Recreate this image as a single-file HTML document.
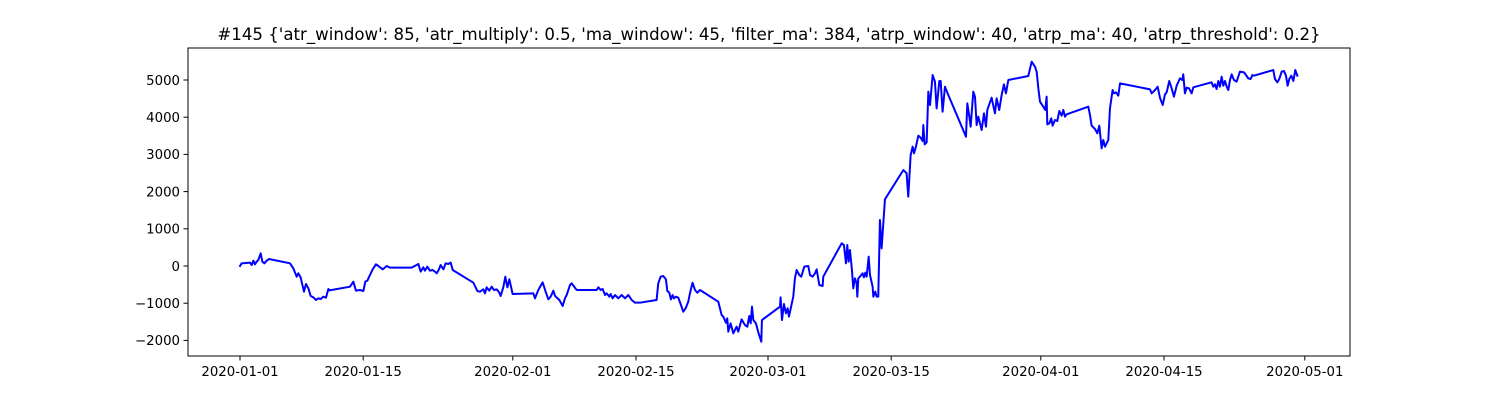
<!DOCTYPE html>
<html><head><meta charset="utf-8"><style>
html,body{margin:0;padding:0;background:#fff;}
svg{display:block;font-family:"DejaVu Sans","Liberation Sans",sans-serif;}
</style></head><body>
<svg id="chart" width="1500" height="400" viewBox="0 0 1500 400" xmlns="http://www.w3.org/2000/svg">
<rect x="0" y="0" width="1500" height="400" fill="#fff"/>
<text x="769" y="40" font-size="16.6" text-anchor="middle" fill="#000">#145 {'atr_window': 85, 'atr_multiply': 0.5, 'ma_window': 45, 'filter_ma': 384, 'atrp_window': 40, 'atrp_ma': 40, 'atrp_threshold': 0.2}</text>
<g id="axes"></g>
</svg>
<script>
const days = [0,.19,1.14,1.33,1.52,1.70,1.89,2.08,2.35,2.54,2.77,3.03,3.30,5.68,6.06,6.44,6.63,6.89,7.27,7.50,7.77,8.03,8.33,8.64,8.90,9.17,9.47,9.77,10.04,10.15,12.5,12.88,13.18,13.64,14.02,14.24,14.47,14.77,15.08,15.45,15.72,16.21,16.67,17.05,19.51,20.27,20.53,20.83,21.02,21.29,21.59,21.89,22.16,22.35,22.61,22.80,23.11,23.37,23.67,23.94,24.17,26.52,26.97,27.27,27.65,27.84,28.03,28.33,28.60,28.86,29.17,29.47,29.62,29.92,30.15,30.38,30.61,30.98,33.33,33.52,33.90,34.39,34.77,35.04,35.30,35.61,35.80,36.29,36.67,36.93,37.12,37.50,37.69,38.26,40.53,40.72,40.98,41.21,41.48,41.67,41.97,42.12,42.35,42.61,42.99,43.37,43.75,44.13,44.51,44.89,
45.45,47.34,47.53,47.80,48.10,48.40,48.56,48.78,48.97,49.16,49.31,49.54,49.81,50.07,50.37,50.64,50.94,51.13,51.43,51.70,51.97,52.27,54.35,54.73,54.92,55.22,55.37,55.49,55.75,56.06,56.43,56.62,57.0,57.38,57.65,57.87,58.03,58.18,58.33,58.63,58.93,59.24,59.31,61.36,61.43,61.59,61.81,62.04,62.23,62.38,62.87,63.06,63.25,63.56,63.78,64.12,64.58,64.77,65.07,65.34,65.53,65.83,66.21,66.28,68.37,68.63,68.86,69.01,69.16,69.31,69.54,69.69,69.88,70.07,70.15,70.26,70.45,70.75,70.9,71.06,71.21,71.44,71.59,71.89,71.97,72.19,72.34,72.53,72.72,72.91,73.29,
75.38,75.75,75.94,76.21,76.44,76.59,76.81,77.08,77.34,77.57,77.65,77.8,78.03,78.22,78.41,78.71,78.97,79.16,79.47,79.62,79.84,80.11,80.49,82.5,82.65,82.88,83.03,83.33,83.52,83.71,83.9,84.28,84.54,84.77,84.92,85.41,85.79,85.98,86.28,86.55,86.81,87.04,87.31,89.58,89.96,90.34,90.53,90.72,90.91,91.28,91.51,91.66,91.74,91.97,92.19,92.34,92.61,92.88,93.1,93.37,93.56,93.75,93.94,96.4,96.59,96.78,97.16,97.42,97.65,97.91,98.1,98.29,98.67,98.86,99.16,99.31,99.54,99.81,100.0,103.41,103.6,103.98,104.28,104.54,104.85,105.11,105.3,105.6,105.87,106.13,106.44,106.81,107.08,107.19,107.38,107.57,107.84,108.14,108.33,110.41,110.6,110.79,110.98,111.17,111.36,111.55,111.74,111.93,112.12,112.31,112.5,112.69,112.95,113.25,113.63,114.09,114.31,114.58,114.85,115.04,115.22,117.42,117.61,117.88,118.1,118.37,118.63,118.86,119.05,119.24,119.47,119.7,119.92,120.15];
const values = [0,72,90,27,143,45,116,161,340,116,72,143,188,72,-63,-287,-197,-305,-690,-484,-600,-806,-842,-914,-869,-887,-824,-851,-618,-654,-556,-421,-663,-645,-672,-421,-394,-242,-90,45,0,-90,0,-45,-45,54,-152,-36,-125,-18,-125,-108,-152,-197,-90,27,-90,72,54,90,-108,-448,-672,-690,-627,-735,-573,-663,-556,-645,-627,-717,-806,-573,-287,-573,-358,-753,-735,-869,-645,-439,-717,-896,-824,-663,-806,-914,-1075,-869,-780,-511,-466,-645,-645,-573,-645,-618,-780,-735,-824,-753,-869,-780,-869,-780,-869,-780,-914,-986,
-986,-914,-466,-287,-269,-358,-672,-717,-896,-780,-869,-824,-851,-1021,-1228,-1138,-959,-735,-448,-645,-717,-645,-959,-1317,-1362,-1523,-1407,-1765,-1541,-1810,-1631,-1765,-1434,-1586,-1631,-1344,-1541,-1093,-1452,-1541,-1810,-2034,-1452,-1093,-842,-1452,-1021,-1272,-1138,-1362,-824,-332,-108,-242,-287,-18,0,-242,-287,-197,-90,-511,-538,-287,609,564,72,564,116,430,-108,-600,-332,-466,-824,-332,-287,-197,-305,-179,-287,251,-242,-556,-824,-690,-824,-824,1236,475,1792,
2580,2491,1864,2984,3208,3028,3208,3503,3450,3360,3790,3270,3324,4686,4328,5134,4955,4238,4973,4973,4148,4820,4596,3476,4372,4014,3745,4686,4552,3790,4014,3656,4104,3745,4193,4525,4104,4507,4193,4596,4883,4641,5000,5107,5492,5358,5224,4776,4417,4283,4193,4552,3808,3835,3969,3772,3924,3898,4166,4041,4193,4014,4077,4283,4059,3772,3683,3566,3772,3163,3387,3208,3387,4238,4731,4641,4668,4579,4910,4749,4641,4731,4820,4525,4328,4614,4668,4973,4776,4552,4847,5044,5000,5152,4641,4794,4776,4641,4803,4937,4820,4883,4758,4973,4820,5089,4847,4973,4820,4731,5000,5152,5000,4955,5224,5206,5134,5044,5027,5134,5116,5268,5027,4937,5027,5224,5242,5116,4847,5027,5116,4973,5268,5116];
const xTickDays = [0,14,31,45,60,74,91,105,121];
const xTickLabels = ["2020-01-01","2020-01-15","2020-02-01","2020-02-15","2020-03-01","2020-03-15","2020-04-01","2020-04-15","2020-05-01"];
const yTicks = [-2000,-1000,0,1000,2000,3000,4000,5000];

const L=188,R=1350,T=48,B=356;
const xScale = d => 240 + d*8.8;
const yScale = v => 266 - v*0.0372;
const NS="http://www.w3.org/2000/svg";
const g=document.getElementById('axes');
function mk(tag,attrs){const e=document.createElementNS(NS,tag);for(const k in attrs)e.setAttribute(k,attrs[k]);g.appendChild(e);return e;}

let d='';
for(let i=0;i<days.length;i++){d+=(i?'L':'M')+xScale(days[i]).toFixed(2)+','+yScale(values[i]).toFixed(2);}
const line=mk('path',{d:d,fill:'none',stroke:'#0000ff','stroke-width':2,'stroke-linejoin':'round','stroke-linecap':'square'});



const frame=mk('rect',{x:L,y:T,width:R-L,height:B-T,fill:'none',stroke:'#000','stroke-width':1});



xTickDays.forEach((td,i)=>{
  const x=xScale(td);
  const t=mk('line',{x1:x,x2:x,y1:B,y2:B+4.5,stroke:'#000','stroke-width':1});
  
  
  const lb=mk('text',{x:x,y:B+20,'font-size':13.3,'text-anchor':'middle',fill:'#000'});
  lb.textContent=xTickLabels[i];
  
  
});
yTicks.forEach(v=>{
  const y=yScale(v);
  const t=mk('line',{x1:L-4.5,x2:L,y1:y,y2:y,stroke:'#000','stroke-width':1});
  
  
  const lb=mk('text',{x:L-8,y:y+4.8,'font-size':13.3,'text-anchor':'end',fill:'#000'});
  lb.textContent=(v<0?'\u2212':'')+Math.abs(v);
  
  
});
</script>
</body></html>
